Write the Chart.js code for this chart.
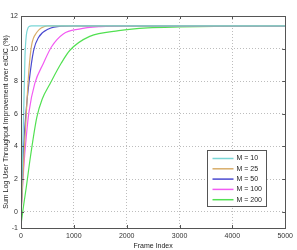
<!DOCTYPE html>
<html>
<head>
<meta charset="utf-8">
<script src="https://cdn.jsdelivr.net/npm/chart.js@4.4.0/dist/chart.umd.min.js"></script>
<style>
  html, body { margin: 0; padding: 0; background: #fff; }
  #wrap { width: 297px; height: 250px; }
</style>
</head>
<body>
<div id="wrap"><canvas id="myChart" width="297" height="250"></canvas></div>
<script>
// values (frame index -> improvement %)
var labels = ["M = 10", "M = 25", "M = 50", "M = 100", "M = 200"];
var colors = ["#7ad6d6", "#d8ad6a", "#4a4ad0", "#f25cf2", "#52e052"];

var m10X = [0, 25, 50, 75, 100, 125, 150, 200, 5000];
var m10Y = [-0.2, 3, 6, 9.5, 10.8, 11.2, 11.35, 11.4, 11.4];

var m25X = [0, 50, 100, 150, 200, 300, 400, 500, 5000];
var m25Y = [-0.2, 3, 6, 8.7, 10.2, 11.0, 11.3, 11.4, 11.4];

var m50X = [0, 50, 100, 150, 240, 335, 520, 760, 1000, 5000];
var m50Y = [-0.2, 4, 6.3, 7.9, 9.9, 10.7, 11.2, 11.38, 11.4, 11.4];

var m100X = [0, 50, 100, 150, 260, 425, 575, 800, 1100, 1500, 2000, 5000];
var m100Y = [-0.2, 2.6, 4.6, 6.1, 7.85, 9.1, 10.1, 10.9, 11.2, 11.35, 11.4, 11.4];

var m200X = [0, 50, 100, 180, 300, 400, 550, 760, 926, 1300, 1850, 2400, 3000, 4000, 5000];
var m200Y = [-0.8, 0.4, 1.5, 3.4, 5.8, 6.9, 7.85, 9.1, 9.9, 10.75, 11.1, 11.27, 11.33, 11.38, 11.4];

var yTicks = [-1, 0, 2, 4, 6, 8, 10, 12];
var xTicks = [0, 1000, 2000, 3000, 4000, 5000];

function toPoints(xs, ys) {
    return xs.map(function (x, i) { return { x: x, y: ys[i] }; });
}
var seriesX = [m10X, m25X, m50X, m100X, m200X];
var seriesY = [m10Y, m25Y, m50Y, m100Y, m200Y];

var datasets = labels.map(function (lab, i) {
    return {
        label: lab,
        data: toPoints(seriesX[i], seriesY[i]),
        borderColor: colors[i],
        borderWidth: 1.2,
        pointRadius: 0,
        cubicInterpolationMode: 'monotone',
        fill: false
    };
});

var frameBox = {
    id: 'frameBox',
    afterDatasetsDraw: function (chart) {
        var a = chart.chartArea, ctx = chart.ctx;
        ctx.save();
        ctx.strokeStyle = '#555';
        ctx.lineWidth = 1;
        ctx.strokeRect(Math.round(a.left) + 0.5, Math.round(a.top) + 0.5,
            Math.round(a.right - a.left), Math.round(a.bottom - a.top));
        // inward ticks like matlab
        var xs = chart.scales.x, ys = chart.scales.y;
        ctx.beginPath();
        xTicks.forEach(function (t) {
            var px = Math.round(xs.getPixelForValue(t)) + 0.5;
            ctx.moveTo(px, a.bottom); ctx.lineTo(px, a.bottom - 3);
            ctx.moveTo(px, a.top); ctx.lineTo(px, a.top + 3);
        });
        yTicks.forEach(function (t) {
            var py = Math.round(ys.getPixelForValue(t)) + 0.5;
            ctx.moveTo(a.left, py); ctx.lineTo(a.left + 3, py);
            ctx.moveTo(a.right, py); ctx.lineTo(a.right - 3, py);
        });
        ctx.stroke();

        // legend box inside the plot
        var bx = 207.5, by = 150.5, bw = 59, bh = 56;
        ctx.fillStyle = '#fff';
        ctx.fillRect(bx, by, bw, bh);
        ctx.strokeStyle = '#555';
        ctx.strokeRect(bx, by, bw, bh);
        ctx.font = '7px "Liberation Sans", Arial, sans-serif';
        ctx.textBaseline = 'middle';
        chart.data.datasets.forEach(function (ds, i) {
            var yy = by + 8 + i * 10.3;
            ctx.strokeStyle = ds.borderColor;
            ctx.lineWidth = 1.5;
            ctx.beginPath();
            ctx.moveTo(bx + 5, yy); ctx.lineTo(bx + 26, yy);
            ctx.stroke();
            ctx.fillStyle = '#222';
            ctx.fillText(ds.label, bx + 29, yy);
        });
        ctx.restore();
    }
};

new Chart(document.getElementById('myChart'), {
    type: 'line',
    data: { datasets: datasets },
    options: {
        responsive: false,
        animation: false,
        layout: { padding: { top: 16, right: 7, left: 0, bottom: 0 } },
        plugins: { legend: { display: false }, tooltip: { enabled: false } },
        scales: {
            x: {
                type: 'linear',
                min: 0, max: 5000,
                afterBuildTicks: function (s) { s.ticks = xTicks.map(function (v) { return { value: v }; }); },
                afterFit: function (s) { s.height = 22; },
                grid: { color: '#bdbdbd', drawTicks: false },
                border: { display: false, dash: [1, 2] },
                ticks: {
                    color: '#333', font: { size: 7, family: 'Liberation Sans' }, padding: 4, maxRotation: 0,
                    callback: function (v) { return String(v); }
                },
                title: { display: true, text: 'Frame Index', color: '#222', font: { size: 7, family: 'Liberation Sans' }, padding: { top: 3, bottom: 0 } }
            },
            y: {
                type: 'linear',
                min: -1, max: 12,
                afterBuildTicks: function (s) { s.ticks = yTicks.map(function (v) { return { value: v }; }); },
                afterFit: function (s) { s.width = 21; },
                grid: { color: '#bdbdbd', drawTicks: false },
                border: { display: false, dash: [1, 2] },
                ticks: { color: '#333', font: { size: 7, family: 'Liberation Sans' }, padding: 3 },
                title: { display: true, text: 'Sum Log User Throughput Improvement over eICIC (%)', color: '#222', font: { size: 7, family: 'Liberation Sans' }, padding: { top: 2, bottom: 0 } }
            }
        }
    },
    plugins: [frameBox]
});
</script>
</body>
</html>
